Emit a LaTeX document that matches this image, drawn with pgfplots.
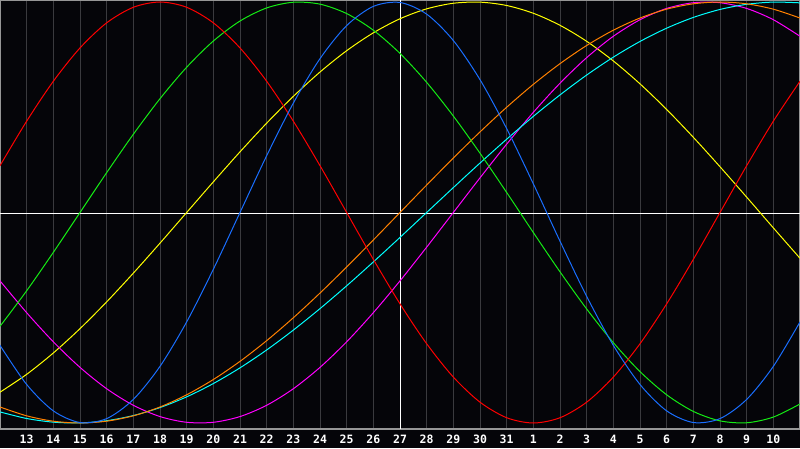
\documentclass[border=0pt]{standalone}
\usepackage{fontspec}
\usepackage{pgfplots}
\pgfplotsset{compat=1.18}
\usepackage{pgfplotstable}
\newfontfamily\tickfont{DejaVu Sans Mono}
\definecolor{bg}{RGB}{5,5,9}
\definecolor{gridgrey}{RGB}{58,58,62}
\definecolor{bordergrey}{RGB}{150,150,150}
\definecolor{cred}{RGB}{255,0,0}
\definecolor{cgreen}{RGB}{20,235,20}
\definecolor{cblue}{RGB}{25,110,255}
\definecolor{cyellow}{RGB}{255,255,0}
\definecolor{cmagenta}{RGB}{255,0,255}
\definecolor{corange}{RGB}{255,128,0}
\definecolor{ccyan}{RGB}{0,255,255}
\pgfplotstableread{
d red green blue yellow magenta orange cyan
0 0.2225 -0.5406 -0.6311 -0.8536 -0.3247 -0.9239 -0.9473
1 0.4339 -0.3717 -0.8170 -0.7687 -0.4759 -0.9659 -0.9786
2 0.6235 -0.1893 -0.9423 -0.6673 -0.6142 -0.9914 -0.9960
3 0.7818 0 -0.9977 -0.5517 -0.7357 -1 -0.9996
4 0.9010 0.1893 -0.9791 -0.4245 -0.8372 -0.9914 -0.9890
5 0.9749 0.3717 -0.8879 -0.2881 -0.9158 -0.9659 -0.9646
6 1 0.5406 -0.7308 -0.1456 -0.9694 -0.9239 -0.9267
7 0.9749 0.6901 -0.5196 0 -0.9966 -0.8660 -0.8757
8 0.9010 0.8146 -0.2698 0.1456 -0.9966 -0.7934 -0.8126
9 0.7818 0.9096 0 0.2881 -0.9694 -0.7071 -0.7380
10 0.6235 0.9718 0.2698 0.4245 -0.9158 -0.6088 -0.6530
11 0.4339 0.9989 0.5196 0.5517 -0.8372 -0.5 -0.5586
12 0.2225 0.9898 0.7308 0.6673 -0.7357 -0.3827 -0.4566
13 0 0.9450 0.8879 0.7687 -0.6142 -0.2588 -0.3482
14 -0.2225 0.8660 0.9791 0.8536 -0.4759 -0.1305 -0.2349
15 -0.4339 0.7557 0.9977 0.9204 -0.3247 0 -0.1183
16 -0.6235 0.6182 0.9423 0.9675 -0.1646 0.1305 0
17 -0.7818 0.4582 0.8170 0.9940 0 0.2588 0.1183
18 -0.9010 0.2817 0.6311 0.9993 0.1646 0.3827 0.2349
19 -0.9749 0.0951 0.3984 0.9834 0.3247 0.5 0.3482
20 -1 -0.0951 0.1362 0.9465 0.4759 0.6088 0.4566
21 -0.9749 -0.2817 -0.1362 0.8893 0.6142 0.7071 0.5586
22 -0.9010 -0.4582 -0.3984 0.8133 0.7357 0.7934 0.6530
23 -0.7818 -0.6182 -0.6311 0.7199 0.8372 0.8660 0.7380
24 -0.6235 -0.7557 -0.8170 0.6112 0.9158 0.9239 0.8126
25 -0.4339 -0.8660 -0.9423 0.4894 0.9694 0.9659 0.8757
26 -0.2225 -0.9450 -0.9977 0.3572 0.9966 0.9914 0.9267
27 0 -0.9898 -0.9791 0.2174 0.9966 1 0.9646
28 0.2225 -0.9989 -0.8879 0.0730 0.9694 0.9914 0.9890
29 0.4339 -0.9718 -0.7308 -0.0730 0.9158 0.9659 0.9996
30 0.6235 -0.9096 -0.5196 -0.2174 0.8372 0.9239 0.9960
}\bio
\begin{document}
\begin{tikzpicture}
\fill[bg] (0,-19pt) rectangle (800pt,429pt);
\begin{axis}[
  at={(0,0)}, anchor=south west,
  scale only axis, width=800pt, height=429pt,
  xmin=0, xmax=30, ymin=-1.0285, ymax=1.0095,
  axis line style={draw=bordergrey, line width=1.6pt},
  xtick={1,...,29},
  xticklabels={13,14,15,16,17,18,19,20,21,22,23,24,25,26,27,28,29,30,31,1,2,3,4,5,6,7,8,9,10},
  ytick=\empty,
  major tick length=0pt,
  xmajorgrids,
  grid style={gridgrey, line width=1pt},
  xticklabel style={font=\tickfont\bfseries\fontsize{11.5}{13}\selectfont, text=white, anchor=center, yshift=-10pt},
  every axis plot/.append style={line width=1pt},
]
\addplot[white, line width=1pt] coordinates {(0,-0.006) (30,-0.006)};
\addplot[white, line width=1pt] coordinates {(15,-1.0285) (15,1.0095)};
\addplot[cyellow, smooth] table[x=d, y=yellow] {\bio};
\addplot[cmagenta, smooth] table[x=d, y=magenta] {\bio};
\addplot[ccyan, smooth] table[x=d, y=cyan] {\bio};
\addplot[corange, smooth] table[x=d, y=orange] {\bio};
\addplot[cgreen, smooth] table[x=d, y=green] {\bio};
\addplot[cred, smooth] table[x=d, y=red] {\bio};
\addplot[cblue, smooth] table[x=d, y=blue] {\bio};
\end{axis}
\pgfresetboundingbox
\path[use as bounding box] (0,-19pt) rectangle (800pt,429pt);
\end{tikzpicture}
\end{document}
